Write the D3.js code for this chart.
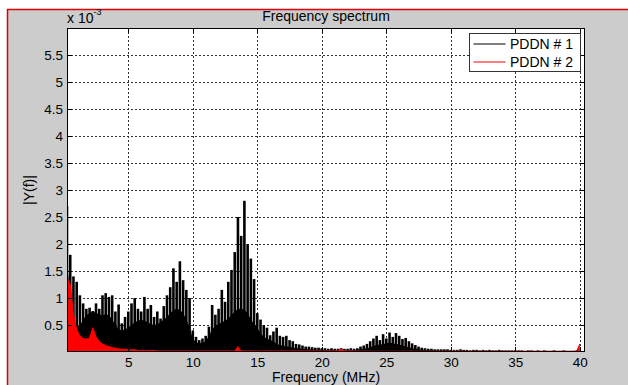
<!DOCTYPE html>
<html>
<head>
<meta charset="utf-8">
<script src="https://cdn.jsdelivr.net/npm/d3@7/dist/d3.min.js"></script>
<style>
  body { margin: 0; background: #fff; }
  svg text { font-family: Arial, "Liberation Sans", sans-serif; fill: #000; }
  .grid line { stroke: #333; stroke-dasharray: 2,2; shape-rendering: crispEdges; }
  .axis line { stroke: #000; shape-rendering: crispEdges; }
  .axis text { font-size: 13.5px; }
</style>
</head>
<body>
<svg id="chart" width="628" height="385"></svg>
<script>
// sample grid of the spectrum (MHz)
const freqStart = 0.25;
const freqStep = 0.25;

// PDDN # 1, |Y(f)| x 1e-3 : top of each spike and top of the dense body
const pddn1Peak = [
  2.70, 1.80, 1.40, 1.30, 1.05, 0.90, 0.80, 0.82, 0.76, 0.90,
  0.80, 1.05, 1.09, 1.02, 1.05, 0.75, 0.88, 0.53, 0.65, 0.75,
  0.90, 1.00, 0.80, 0.75, 1.02, 0.80, 0.87, 0.65, 0.75, 0.62,
  0.85, 1.05, 1.20, 1.55, 1.30, 1.68, 1.33, 1.15, 1.00, 0.40,
  0.28, 0.22, 0.25, 0.30, 0.47, 0.87, 0.69, 0.80, 1.15, 0.93,
  1.30, 1.52, 1.85, 2.50, 2.15, 2.80, 2.00, 1.73, 1.35, 0.72,
  0.60, 0.50, 0.45, 0.31, 0.38, 0.45, 0.30, 0.28, 0.30, 0.22,
  0.20, 0.15, 0.14, 0.12, 0.10, 0.10, 0.09, 0.08, 0.08, 0.07,
  0.07, 0.06, 0.07, 0.06, 0.06, 0.07, 0.06, 0.06, 0.07, 0.06,
  0.07, 0.10, 0.12, 0.15, 0.20, 0.25, 0.30, 0.22, 0.33, 0.25,
  0.36, 0.28, 0.35, 0.30, 0.24, 0.26, 0.20, 0.16, 0.13, 0.10,
  0.08, 0.07, 0.06, 0.06, 0.05, 0.05, 0.05, 0.05, 0.05, 0.04,
  0.04, 0.04, 0.05, 0.04, 0.04, 0.03, 0.04, 0.04, 0.03, 0.04,
  0.03, 0.04, 0.03, 0.03, 0.04, 0.03, 0.03, 0.03, 0.03, 0.03,
  0.03, 0.03, 0.02, 0.03, 0.03, 0.02, 0.03, 0.02, 0.03, 0.02,
  0.02, 0.03, 0.02, 0.02, 0.03, 0.02, 0.02, 0.02, 0.03, 0.02
];
const pddn1Floor = [
  1.60, 1.10, 0.60, 0.50, 0.48, 0.60, 0.68, 0.72, 0.75, 0.72,
  0.70, 0.68, 0.70, 0.68, 0.60, 0.50, 0.42, 0.40, 0.42, 0.45,
  0.50, 0.55, 0.58, 0.60, 0.58, 0.55, 0.52, 0.50, 0.52, 0.55,
  0.60, 0.65, 0.72, 0.78, 0.80, 0.78, 0.72, 0.60, 0.45, 0.25,
  0.18, 0.16, 0.17, 0.20, 0.30, 0.42, 0.48, 0.52, 0.55, 0.58,
  0.62, 0.68, 0.75, 0.80, 0.80, 0.78, 0.72, 0.60, 0.52, 0.45,
  0.35, 0.28, 0.25, 0.22, 0.20, 0.15, 0.13, 0.12, 0.10, 0.10,
  0.08, 0.07, 0.07, 0.06, 0.05, 0.05, 0.05, 0.04, 0.04, 0.04,
  0.04, 0.03, 0.04, 0.03, 0.03, 0.04, 0.03, 0.03, 0.04, 0.03,
  0.04, 0.05, 0.06, 0.07, 0.09, 0.11, 0.13, 0.14, 0.15, 0.16,
  0.17, 0.16, 0.15, 0.14, 0.12, 0.10, 0.09, 0.07, 0.06, 0.05,
  0.04, 0.04, 0.03, 0.03, 0.03, 0.03, 0.03, 0.03, 0.03, 0.02,
  0.02, 0.02, 0.02, 0.02, 0.02, 0.02, 0.02, 0.02, 0.02, 0.02,
  0.02, 0.02, 0.02, 0.02, 0.02, 0.02, 0.02, 0.02, 0.02, 0.02,
  0.015, 0.015, 0.015, 0.015, 0.015, 0.015, 0.015, 0.015, 0.015, 0.015,
  0.015, 0.015, 0.015, 0.015, 0.015, 0.015, 0.015, 0.015, 0.015, 0.015
];

// PDDN # 2, |Y(f)| x 1e-3
const pddn2 = [
  1.38, 1.25, 0.70, 0.42, 0.30, 0.25, 0.24, 0.26, 0.45, 0.28,
  0.20, 0.15, 0.12, 0.10, 0.08, 0.07, 0.06, 0.05, 0.05, 0.04,
  0.04, 0.04, 0.03, 0.03, 0.03, 0.03, 0.03, 0.03, 0.02, 0.02,
  0.02, 0.02, 0.02, 0.02, 0.02, 0.02, 0.02, 0.02, 0.02, 0.02,
  0.02, 0.02, 0.02, 0.02, 0.02, 0.02, 0.02, 0.02, 0.02, 0.02,
  0.02, 0.02, 0.02, 0.10, 0.02, 0.02, 0.02, 0.02, 0.02, 0.02,
  0.02, 0.02, 0.02, 0.02, 0.02, 0.02, 0.02, 0.02, 0.02, 0.02,
  0.02, 0.02, 0.02, 0.02, 0.02, 0.02, 0.02, 0.02, 0.02, 0.02,
  0.02, 0.02, 0.02, 0.02, 0.02, 0.05, 0.02, 0.02, 0.02, 0.02,
  0.015, 0.015, 0.015, 0.015, 0.015, 0.015, 0.015, 0.015, 0.015, 0.015,
  0.015, 0.015, 0.015, 0.015, 0.015, 0.015, 0.015, 0.015, 0.015, 0.015,
  0.015, 0.015, 0.015, 0.015, 0.015, 0.015, 0.015, 0.015, 0.015, 0.015,
  0.015, 0.015, 0.015, 0.015, 0.015, 0.015, 0.015, 0.015, 0.015, 0.015,
  0.015, 0.015, 0.015, 0.015, 0.015, 0.015, 0.015, 0.015, 0.015, 0.015,
  0.015, 0.015, 0.015, 0.015, 0.015, 0.015, 0.015, 0.015, 0.015, 0.015,
  0.015, 0.015, 0.015, 0.015, 0.015, 0.015, 0.015, 0.015, 0.015, 0.15
];

const xTicks = [5, 10, 15, 20, 25, 30, 35, 40];
const yTicks = [0.5, 1, 1.5, 2, 2.5, 3, 3.5, 4, 4.5, 5, 5.5];
const xDomain = [0.25, 40.4];
const yDomain = [0, 6];
const seriesNames = ["PDDN # 1", "PDDN # 2"];
const seriesColors = ["#000", "#f00"];

let margin = { top: 28, left: 67, right: 43, bottom: 33 };
let width = 628 - margin.left - margin.right;
let height = 385 - margin.top - margin.bottom;

let svg = d3.select("#chart");

// figure background with the red frame
svg.append("rect")
  .attr("x", 7.5).attr("y", 9.5)
  .attr("width", 640).attr("height", 400)
  .attr("fill", "#cccccc")
  .attr("stroke", "#e00000")
  .attr("stroke-width", 1.5);

let xScale = d3.scaleLinear().domain(xDomain).range([0, width]);
let yScale = d3.scaleLinear().domain(yDomain).range([height, 0]);

let chart = svg.append("g")
  .attr("transform", "translate(" + margin.left + "," + margin.top + ")");

chart.append("rect")
  .attr("width", width).attr("height", height)
  .attr("fill", "#fff");

chart.append("clipPath").attr("id", "clip")
  .append("rect").attr("width", width).attr("height", height);

// dotted grid
chart.append("g").attr("class", "grid")
  .selectAll("line").data(xTicks).enter().append("line")
  .attr("x1", d => Math.round(xScale(d)) + 0.5).attr("x2", d => Math.round(xScale(d)) + 0.5)
  .attr("y1", 0).attr("y2", height);
chart.append("g").attr("class", "grid")
  .selectAll("line").data(yTicks).enter().append("line")
  .attr("y1", d => Math.round(yScale(d)) + 0.5).attr("y2", d => Math.round(yScale(d)) + 0.5)
  .attr("x1", 0).attr("x2", width);

let plot = chart.append("g").attr("clip-path", "url(#clip)");

let freqAt = i => freqStart + i * freqStep;
let body = d3.area()
  .x((d, i) => xScale(freqAt(i)))
  .y0(height)
  .y1(d => yScale(d));

// PDDN # 1: dense body, then one spike per sample
plot.append("path")
  .datum(pddn1Floor)
  .attr("d", body)
  .attr("fill", seriesColors[0]);

plot.selectAll(".spike")
  .data(pddn1Peak)
  .enter().append("line")
  .attr("class", "spike")
  .attr("x1", (d, i) => xScale(freqAt(i))).attr("x2", (d, i) => xScale(freqAt(i)))
  .attr("y1", height)
  .attr("y2", d => yScale(d))
  .attr("stroke", seriesColors[0])
  .attr("stroke-width", 2.6);

// PDDN # 2
plot.append("path")
  .datum(pddn2)
  .attr("d", body)
  .attr("fill", seriesColors[1]);
plot.append("path")
  .datum(pddn2)
  .attr("d", d3.line().x((d, i) => xScale(freqAt(i))).y(d => yScale(d)))
  .attr("fill", "none")
  .attr("stroke", seriesColors[1])
  .attr("stroke-width", 1);

// axes, ticks pointing inward
let fmt = d3.format("~g");
chart.append("g").attr("class", "axis")
  .attr("transform", "translate(0," + height + ")")
  .call(d3.axisBottom(xScale).tickValues(xTicks).tickSize(-5).tickPadding(5).tickFormat(fmt))
  .call(g => g.select(".domain").remove());
chart.append("g").attr("class", "axis")
  .call(d3.axisTop(xScale).tickValues(xTicks).tickSize(-5).tickFormat(""))
  .call(g => g.select(".domain").remove());
chart.append("g").attr("class", "axis")
  .call(d3.axisLeft(yScale).tickValues(yTicks).tickSize(-5).tickPadding(4).tickFormat(fmt))
  .call(g => g.select(".domain").remove());
chart.append("g").attr("class", "axis")
  .attr("transform", "translate(" + width + ",0)")
  .call(d3.axisRight(yScale).tickValues(yTicks).tickSize(-5).tickFormat(""))
  .call(g => g.select(".domain").remove());

chart.append("rect")
  .attr("x", 0.5).attr("y", 0.5)
  .attr("width", width - 1).attr("height", height - 1)
  .attr("fill", "none")
  .attr("stroke", "#000");

// labels
svg.append("text")
  .attr("x", margin.left + width / 2).attr("y", 21)
  .attr("text-anchor", "middle")
  .style("font-size", "14px")
  .text("Frequency spectrum");

let expo = svg.append("text")
  .attr("x", margin.left).attr("y", 23)
  .style("font-size", "14px");
expo.append("tspan").text("x 10");
expo.append("tspan").attr("dy", -8).style("font-size", "9px").text("-3");

svg.append("text")
  .attr("x", margin.left + width / 2).attr("y", 382)
  .attr("text-anchor", "middle")
  .style("font-size", "14px")
  .text("Frequency (MHz)");

svg.append("text")
  .attr("transform", "translate(34," + (margin.top + height / 2) + ") rotate(-90)")
  .attr("text-anchor", "middle")
  .style("font-size", "14px")
  .text("|Y(f)|");

// legend
let legend = svg.append("g").attr("transform", "translate(469.5,33.5)");
legend.append("rect")
  .attr("width", 111).attr("height", 38)
  .attr("fill", "#fff")
  .attr("stroke", "#333");
seriesNames.forEach((name, i) => {
  legend.append("line")
    .attr("x1", 4).attr("x2", 36)
    .attr("y1", 10.5 + i * 18).attr("y2", 10.5 + i * 18)
    .attr("stroke", seriesColors[i]);
  legend.append("text")
    .attr("x", 40.5).attr("y", 15.5 + i * 18)
    .style("font-size", "14px")
    .text(name);
});
</script>
</body>
</html>
